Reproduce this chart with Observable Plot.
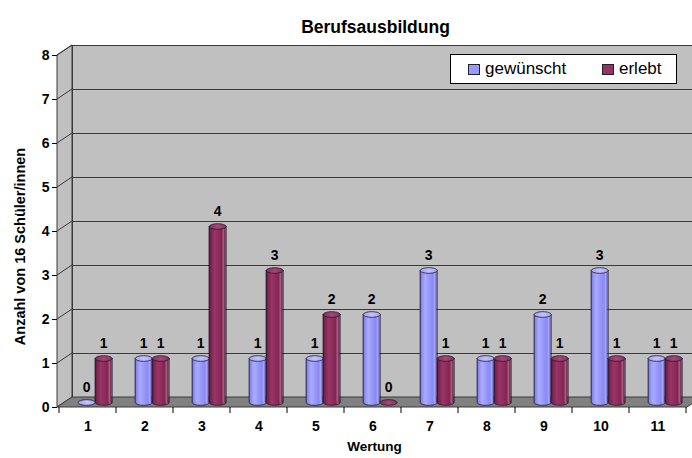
<!DOCTYPE html>
<html><head><meta charset="utf-8">
<script src="https://cdn.jsdelivr.net/npm/d3@7"></script>
<script src="https://cdn.jsdelivr.net/npm/@observablehq/plot@0.6"></script>
<style>
html,body{margin:0;padding:0;background:#fff}
#wrap{position:relative;width:692px;height:458px;font-family:"Liberation Sans",Arial,sans-serif}
#legend{position:absolute;left:450px;top:54px;width:225px;height:28px;border:1px solid #000;background:#fff;font-size:17px;color:#000}
#legend .it{position:absolute;top:0;height:28px;line-height:28px;white-space:nowrap}
#legend .sw{display:inline-block;width:10px;height:9px;border:1px solid #222;margin-right:5px;vertical-align:-1px}
</style></head><body><div id="wrap"></div>
<script>
// ---- data ----
const categories = ["1","2","3","4","5","6","7","8","9","10","11"];
const gewuenscht = [0,1,1,1,1,2,3,1,2,3,1];
const erlebt     = [1,1,4,3,2,0,1,1,1,1,1];
const seriesNames = ["gewünscht","erlebt"];
const yTicks = [0,1,2,3,4,5,6,7,8];
const titleText = "Berufsausbildung";
const xTitle = "Wertung";
const yTitle = "Anzahl von 16 Schüler/innen";

const rows = categories.flatMap((c,i)=>[
  {cat:c, series:seriesNames[0], value:gewuenscht[i]},
  {cat:c, series:seriesNames[1], value:erlebt[i]}
]);

// ---- layout/style ----
const W = 692, H = 458, ML = 57, MR = 5, MT = 55, MB = 51;
const DX = 15, DY = -10;          // 3D depth offset of back wall
const BDY = -5;                   // bars sit at mid depth
const BW = 17, HALF = BW/2;
const bandW = (W - ML - MR) / categories.length;
const inset = (bandW - BW) / 2;
const offsets = {"gewünscht": -1.3, "erlebt": 15.7};
const grads = {"gewünscht": "url(#gBlue)", "erlebt": "url(#gRed)"};
const tops = {"gewünscht": "url(#gBlueTop)", "erlebt": "url(#gRedTop)"};
const outline = "#1c1c2c";

const ellipse = {draw(ctx){
  const rx = HALF, ry = 2.8, k = 0.5523;
  ctx.moveTo(-rx,0);
  ctx.bezierCurveTo(-rx,-ry*k,-rx*k,-ry,0,-ry);
  ctx.bezierCurveTo(rx*k,-ry,rx,-ry*k,rx,0);
  ctx.bezierCurveTo(rx,ry*k,rx*k,ry,0,ry);
  ctx.bezierCurveTo(-rx*k,ry,-rx,ry*k,-rx,0);
  ctx.closePath();
}};

function defs(){
  const d = d3.create("svg:defs");
  const mk = (id, stops) => {
    const g = d.append("linearGradient").attr("id", id).attr("x1",0).attr("x2",1).attr("y1",0).attr("y2",0);
    for (const [o,c] of stops) g.append("stop").attr("offset",o).attr("stop-color",c);
  };
  mk("gBlue", [[0,"#6a6ad2"],[0.12,"#8c8cf2"],[0.32,"#abacff"],[0.55,"#9898fb"],[0.78,"#8a8aef"],[0.88,"#a3a3ff"],[1,"#6464c6"]]);
  mk("gRed",  [[0,"#5c1a3c"],[0.14,"#7d2550"],[0.34,"#9a3467"],[0.58,"#8c2d5d"],[0.76,"#80274f"],[0.87,"#ad5a82"],[1,"#561838"]]);
  mk("gBlueTop", [[0,"#a0a0f5"],[0.5,"#c2c2ff"],[1,"#a5a5f8"]]);
  mk("gRedTop",  [[0,"#8a2c5a"],[0.5,"#a84676"],[1,"#8a2c5a"]]);
  return d.node();
}

function walls(index, scales, values, dim){
  const y = scales.y;
  const r = W - dim.marginRight, l = dim.marginLeft;
  const y0 = y(0), yT = y(d3.max(yTicks));
  const g = d3.create("svg:g");
  g.append("path").attr("d",`M${l},${y0}L${l},${yT}L${l+DX},${yT+DY}L${l+DX},${y0+DY}Z`)
    .attr("fill","#c0c0c0").attr("stroke","#3a3a3a");
  for (const v of yTicks.slice(1)) {
    g.append("line").attr("x1",l).attr("y1",y(v)).attr("x2",l+DX).attr("y2",y(v)+DY).attr("stroke","#3a3a3a");
  }
  g.append("path").attr("d",`M${l},${y0}L${r},${y0}L${r+DX},${y0+DY}L${l+DX},${y0+DY}Z`)
    .attr("fill","#808080").attr("stroke","#3a3a3a");
  // category boundary ticks on front axis
  const x = scales.x;
  const xs = categories.map(c => x(c));
  xs.push(xs[xs.length-1] + (xs[1]-xs[0]));
  for (const xv of xs) g.append("line").attr("x1",xv).attr("x2",xv).attr("y1",y0).attr("y2",y0+6).attr("stroke","#000");
  return g.node();
}

function cylinder(name){
  const data = rows.filter(d => d.series === name);
  const dx = offsets[name];
  const pos = data.filter(d => d.value > 0);
  return [
    Plot.dot(pos, {x:"cat", y:()=>0, dx, dy:BDY, symbol:ellipse, fill:grads[name], stroke:outline, strokeWidth:0.8}),
    Plot.barY(pos, {x:"cat", y1:0, y2:"value", insetLeft:inset + dx, insetRight:inset - dx, dy:BDY, fill:grads[name]}),
    Plot.ruleX(pos, {x:"cat", y1:0, y2:"value", dx:dx-HALF, dy:BDY, stroke:outline, strokeWidth:0.8}),
    Plot.ruleX(pos, {x:"cat", y1:0, y2:"value", dx:dx+HALF, dy:BDY, stroke:outline, strokeWidth:0.8}),
    Plot.dot(data, {x:"cat", y:"value", dx, dy:BDY, symbol:ellipse, fill:tops[name], stroke:outline, strokeWidth:0.8}),
    Plot.text(data, {x:"cat", y:"value", text:d=>String(d.value), dx, dy:-20, fontSize:14, fontWeight:"bold", fill:"#000"})
  ];
}

const chart = Plot.plot({
  width: W, height: H,
  marginLeft: ML, marginRight: MR, marginTop: MT, marginBottom: MB,
  style: {fontFamily: '"Liberation Sans", Arial, sans-serif', background: "transparent", overflow: "visible"},
  x: {type:"band", domain: categories, padding: 0, label: null},
  y: {domain: [0, d3.max(yTicks)], label: null},
  marks: [
    defs,
    Plot.frame({fill:"#c0c0c0", stroke:"#3a3a3a", dx:DX, dy:DY}),
    Plot.ruleY(yTicks.slice(1, -1), {dx:DX, dy:DY, stroke:"#3a3a3a"}),
    walls,
    Plot.axisY({ticks: yTicks, tickSize:5, tickPadding:3, tickFormat:d=>String(d), fontSize:14, fontWeight:"bold", label:null, stroke:"#000"}),
    Plot.axisX({tickSize:0, tickPadding:14, fontSize:14, fontWeight:"bold", label:null}),
    ...cylinder(seriesNames[0]),
    ...cylinder(seriesNames[1]),
    Plot.text([titleText], {text:d=>d, frameAnchor:"top", dx:3, dy:-35, fontSize:17.5, fontWeight:"bold", fill:"#000"}),
    Plot.text([xTitle], {text:d=>d, frameAnchor:"bottom", dx:2, dy:43, fontSize:13.5, fontWeight:"bold", fill:"#000"}),
    Plot.text([yTitle], {text:d=>d, frameAnchor:"left", textAnchor:"middle", dx:-37, dy:15, rotate:-90, fontSize:14.5, fontWeight:"bold", fill:"#000"})
  ]
});
const wrap = document.getElementById("wrap");
wrap.appendChild(chart);

// legend (HTML overlay)
const legend = document.createElement("div");
legend.id = "legend";
const legendColors = {"gewünscht":"#9999ff","erlebt":"#993366"};
const legendX = [17, 151];
seriesNames.forEach((s,i) => {
  const it = document.createElement("div");
  it.className = "it"; it.style.left = legendX[i] + "px";
  const sw = document.createElement("span"); sw.className = "sw"; sw.style.background = legendColors[s];
  it.appendChild(sw); it.appendChild(document.createTextNode(s));
  legend.appendChild(it);
});
wrap.appendChild(legend);
</script></body></html>
